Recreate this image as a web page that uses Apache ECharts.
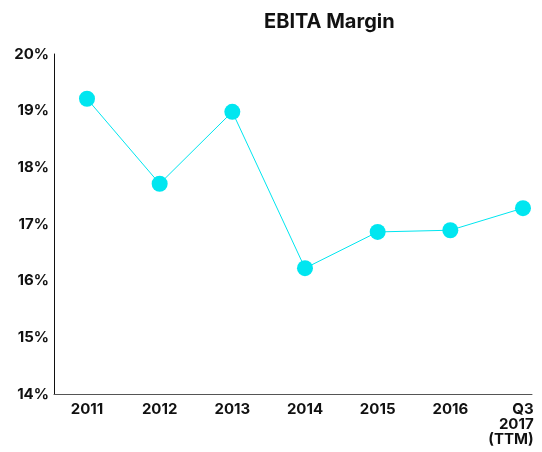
<!DOCTYPE html>
<html>
<head>
<meta charset="utf-8">
<script src="https://cdn.jsdelivr.net/npm/echarts@6/dist/echarts.min.js"></script>
<style>
  html, body { margin: 0; padding: 0; background: #fff; }
  #chart { width: 542px; height: 452px; }
</style>
</head>
<body>
<div id="chart"></div>
<script>
// chart data
const years = ['2011', '2012', '2013', '2014', '2015', '2016', 'Q3\n2017\n(TTM)'];
const margins = [19.21, 17.71, 18.98, 16.22, 16.86, 16.89, 17.28];
const yTicks = [14, 15, 16, 17, 18, 19, 20];

let chart = echarts.init(document.getElementById('chart'));
let font = 'Inter, "Noto Sans", sans-serif';

let option = {
  backgroundColor: '#fff',
  animation: false,
  title: {
    text: 'EBITA Margin',
    left: 259,
    top: 7,
    textStyle: { fontFamily: font, fontSize: 20, fontWeight: 'bold', color: '#111' }
  },
  grid: { left: 54, right: 10, top: 54, bottom: 58, outerBoundsMode: 'none', containLabel: false },
  xAxis: {
    type: 'value',
    min: -0.454,
    max: 6.124,
    splitLine: { show: false },
    axisTick: { show: false },
    axisLine: { show: true, onZero: false, lineStyle: { color: '#555', width: 1 } },
    axisLabel: {
      customValues: years.map((y, i) => i),
      margin: 8,
      fontFamily: font,
      fontSize: 15,
      fontWeight: 'bold',
      color: '#111',
      lineHeight: 15,
      formatter: v => {
        let s = years[v] || '';
        if (s.indexOf('\n') >= 0) {
          return s.split('\n').map(t => '{r|' + t + '}').join('\n');
        }
        return s;
      },
      rich: {
        r: { align: 'right', padding: [0, 24, 0, 0], fontFamily: font, fontSize: 15, fontWeight: 'bold', color: '#111', lineHeight: 15 }
      }
    }
  },
  yAxis: {
    type: 'value',
    min: yTicks[0],
    max: yTicks[yTicks.length - 1],
    interval: 1,
    splitLine: { show: false },
    axisTick: { show: false },
    axisLine: { show: true, onZero: false, lineStyle: { color: '#111', width: 1 } },
    axisLabel: {
      margin: 5,
      fontFamily: font,
      fontSize: 15,
      fontWeight: 'bold',
      color: '#111',
      formatter: '{value}%'
    }
  },
  series: [{
    type: 'line',
    data: margins.map((m, i) => [i, m]),
    symbol: 'circle',
    symbolSize: 16,
    lineStyle: { color: '#00e6f0', width: 1 },
    itemStyle: { color: '#00e6f0' }
  }]
};
chart.setOption(option);
</script>
</body>
</html>
